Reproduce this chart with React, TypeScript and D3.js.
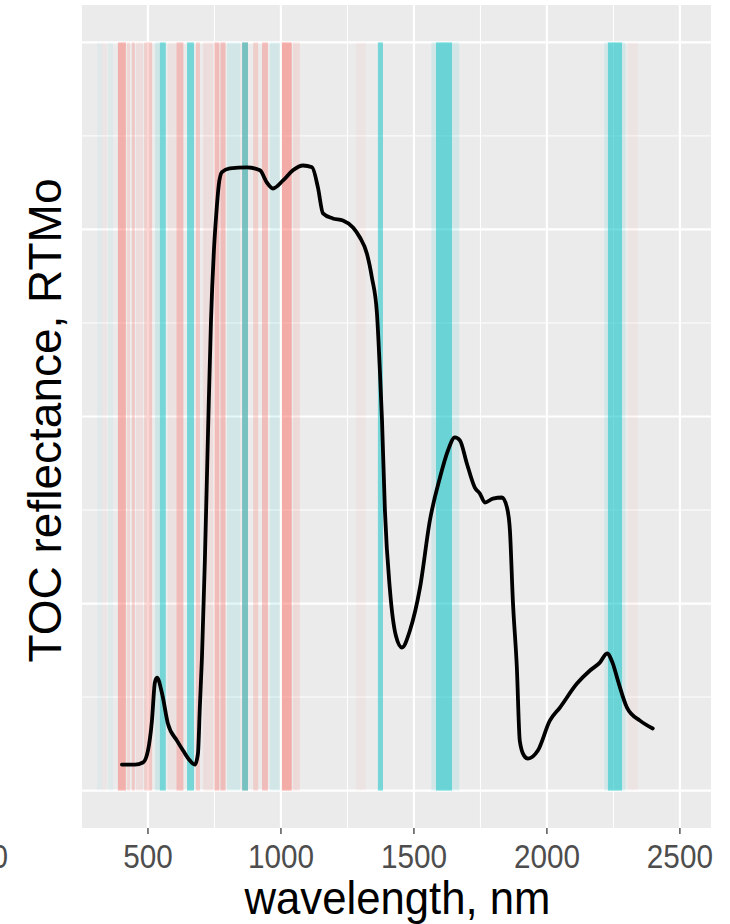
import React, { useRef, useEffect } from "react";
import * as d3 from "d3";

// spectrum (nm, reflectance)
const wavelengths = [
  402, 451, 481, 500, 515, 526, 534, 553, 575, 609, 632, 658, 677, 688, 695, 703,
  714, 726, 737, 748, 757, 766, 778, 808, 872, 921, 947, 970, 1008, 1045, 1083, 1117,
  1139, 1158, 1195, 1233, 1271, 1297, 1323, 1342, 1361, 1372, 1380, 1391, 1410,
  1432, 1455, 1485, 1523, 1560, 1598, 1628, 1654, 1673, 1699, 1729, 1748, 1767,
  1797, 1831, 1850, 1861, 1872, 1887, 1898, 1914, 1929, 1966, 2011, 2049, 2113,
  2162, 2199, 2226, 2248, 2267, 2301, 2350, 2398
];
const reflectance = [
  0.0139, 0.0139, 0.015, 0.0214, 0.0374, 0.0578, 0.0604, 0.0519, 0.0358, 0.0267,
  0.0214, 0.016, 0.0139, 0.0198, 0.0444, 0.0711, 0.123, 0.1925, 0.2513, 0.2888,
  0.3085, 0.3235, 0.3306, 0.3326, 0.3332, 0.3316, 0.3251, 0.3219, 0.3262, 0.3316, 0.3342,
  0.3332, 0.3225, 0.3086, 0.3059, 0.3048, 0.3011, 0.2957, 0.2872, 0.2743, 0.2551,
  0.2246, 0.1979, 0.1497, 0.107, 0.0829, 0.0765, 0.0856, 0.1086, 0.1444, 0.1674,
  0.1818, 0.1888, 0.1872, 0.1749, 0.162, 0.1588, 0.154, 0.1561, 0.1567, 0.1513,
  0.139, 0.1016, 0.0658, 0.0267, 0.0187, 0.0171, 0.0214, 0.0374, 0.0444, 0.0572,
  0.0642, 0.0684, 0.0733, 0.0679, 0.0588, 0.0444, 0.0374, 0.0332
];

// spectral bands: centre, width (nm), group, weight
const bandCenters = [
  318, 336, 359, 402, 427, 445, 468, 491, 506, 536, 556, 590, 620, 660, 688, 726,
  759, 782, 822, 865, 865, 905, 940, 977, 1022, 1058, 1300, 1374, 1618, 1613,
  2256, 2256, 2323
];
const bandWidths = [
  19, 19, 19, 30, 11, 11, 26, 11, 19, 19, 22, 30, 26, 26, 15, 37,
  19, 19, 49, 22, 22, 19, 22, 37, 37, 26, 37, 19, 105, 60,
  80, 53, 37
];
const bandGroups = [
  "b", "a", "b", "a", "a", "a", "a", "a", "a", "b", "b", "a", "a", "b", "a", "a",
  "a", "a", "b", "a", "b", "a", "a", "b", "a", "a", "a", "b", "b", "b",
  "b", "b", "a"
];
const bandWeights = [
  0.04, 0.04, 0.05, 0.5, 0.2, 0.3, 0.12, 0.25, 0.3, 0.12, 0.5, 0.08, 0.4, 0.5, 0.3, 0.12,
  0.4, 0.4, 0.1, 0.35, 0.5, 0.25, 0.4, 0.1, 0.55, 0.15, 0.06, 0.5, 0.1, 0.5,
  0.1, 0.5, 0.06
];

const xTicks = [500, 1000, 1500, 2000, 2500];
const xMinor = [750, 1250, 1750, 2250];
const yTicks = [0, 0.1, 0.2, 0.3, 0.4];
const yMinor = [0.05, 0.15, 0.25, 0.35];

const W = 730, H = 924;
const FONT = "'Liberation Sans', Arial, Helvetica, sans-serif";

export default function App() {
  const ref = useRef<SVGSVGElement>(null);

  useEffect(() => {
    document.body.style.margin = "0";
    const svg = d3.select(ref.current);
    svg.selectAll("*").remove();

    const panel = { left: 82, right: 711, top: 5, bottom: 828 };

    const x = d3.scaleLinear().domain([252, 2617]).range([panel.left, panel.right]);
    const y = d3.scaleLinear().domain([-0.02, 0.42]).range([panel.bottom, panel.top]);

    const color = d3.scaleOrdinal<string, string>().domain(["a", "b"]).range(["#F8766D", "#00BFC4"]);

    svg.append("rect")
      .attr("x", panel.left).attr("y", panel.top)
      .attr("width", panel.right - panel.left)
      .attr("height", panel.bottom - panel.top)
      .attr("fill", "#EBEBEB");

    const grid = svg.append("g").attr("stroke", "#fff");
    grid.selectAll("line.ymin").data(yMinor).enter().append("line")
      .attr("x1", panel.left).attr("x2", panel.right)
      .attr("y1", d => y(d)).attr("y2", d => y(d)).attr("stroke-width", 1);
    grid.selectAll("line.xmin").data(xMinor).enter().append("line")
      .attr("y1", panel.top).attr("y2", panel.bottom)
      .attr("x1", d => x(d)).attr("x2", d => x(d)).attr("stroke-width", 1);
    grid.selectAll("line.ymaj").data(yTicks).enter().append("line")
      .attr("x1", panel.left).attr("x2", panel.right)
      .attr("y1", d => y(d)).attr("y2", d => y(d)).attr("stroke-width", 2.2);
    grid.selectAll("line.xmaj").data(xTicks).enter().append("line")
      .attr("y1", panel.top).attr("y2", panel.bottom)
      .attr("x1", d => x(d)).attr("x2", d => x(d)).attr("stroke-width", 2.2);

    // bands
    const bands = bandCenters.map((c, i) => ({
      c, w: bandWidths[i], g: bandGroups[i], a: bandWeights[i]
    }));
    svg.append("g").selectAll("rect").data(bands).enter().append("rect")
      .attr("x", d => x(d.c - d.w / 2))
      .attr("width", d => x(d.c + d.w / 2) - x(d.c - d.w / 2))
      .attr("y", y(0.4))
      .attr("height", y(0) - y(0.4))
      .attr("fill", d => color(d.g))
      .attr("fill-opacity", d => d.a);

    // spectrum
    const pts = wavelengths.map((w, i) => [w, reflectance[i]] as [number, number]);
    const line = d3.line<[number, number]>()
      .x(d => x(d[0])).y(d => y(d[1]))
      .curve(d3.curveMonotoneX);
    svg.append("path")
      .attr("d", line(pts))
      .attr("fill", "none")
      .attr("stroke", "#000")
      .attr("stroke-width", 3.8)
      .attr("stroke-linejoin", "round")
      .attr("stroke-linecap", "round");

    // x axis
    const ax = svg.append("g");
    ax.selectAll("line").data(xTicks).enter().append("line")
      .attr("x1", d => x(d)).attr("x2", d => x(d))
      .attr("y1", panel.bottom).attr("y2", panel.bottom + 6)
      .attr("stroke", "#555").attr("stroke-width", 1.5);
    ax.selectAll("text").data(xTicks).enter().append("text")
      .attr("transform", d => `translate(${x(d)},868) scale(0.9,1)`)
      .attr("text-anchor", "middle")
      .style("font-family", FONT).style("font-size", "33px")
      .style("fill", "#4D4D4D")
      .text(d => d);

    // label cut at left edge (neighbouring panel)
    svg.append("text")
      .attr("transform", "translate(8,868) scale(0.9,1)")
      .attr("text-anchor", "end")
      .style("font-family", FONT).style("font-size", "33px").style("fill", "#4D4D4D")
      .text("0");

    svg.append("text")
      .attr("transform", `translate(${(panel.left + panel.right) / 2 + 1},914) scale(0.95,1)`)
      .attr("text-anchor", "middle")
      .style("font-family", FONT).style("font-size", "46px").style("fill", "#000")
      .text("wavelength, nm");

    svg.append("text")
      .attr("transform", `translate(61,${(panel.top + panel.bottom) / 2 + 4}) rotate(-90)`)
      .attr("text-anchor", "middle")
      .style("font-family", FONT).style("font-size", "46px").style("fill", "#000")
      .text("TOC reflectance, RTMo");
  }, []);

  return <svg ref={ref} width={W} height={H} style={{ display: "block" }}></svg>;
}
